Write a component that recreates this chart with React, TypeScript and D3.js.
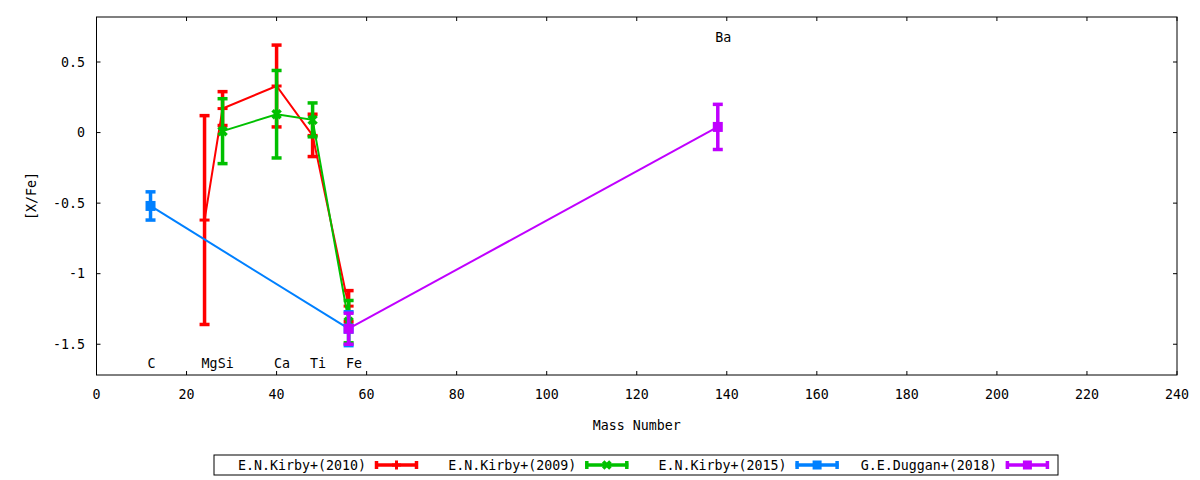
import React from "react";
import * as d3 from "d3";

// ---- data ----
const kirby2010Mass = [24, 28, 40, 48, 56];
const kirby2010Val = [-0.62, 0.17, 0.33, -0.02, -1.23];
const kirby2010Err = [0.74, 0.12, 0.29, 0.15, 0.11];

const kirby2009Mass = [28, 40, 48, 56];
const kirby2009Val = [0.01, 0.13, 0.09, -1.34];
const kirby2009Err = [0.23, 0.31, 0.12, 0.15];

const kirby2015Mass = [12, 56];
const kirby2015Val = [-0.52, -1.39];
const kirby2015Err = [0.1, 0.12];

const duggan2018Mass = [56, 138];
const duggan2018Val = [-1.39, 0.04];
const duggan2018Err = [0.11, 0.16];

const seriesNames = ["E.N.Kirby+(2010)", "E.N.Kirby+(2009)", "E.N.Kirby+(2015)", "G.E.Duggan+(2018)"];
const seriesColors = ["#ff0000", "#00c000", "#0080ff", "#c000ff"];
const seriesMarkers = ["plus", "cross", "square", "square"];

const elementNames = ["C", "Mg", "Si", "Ca", "Ti", "Fe", "Ba"];
const elementLabelX = [12.2, 25.1, 28.7, 41.2, 49.2, 57.2, 139.2];
const elementLabelY = [-1.633, -1.633, -1.633, -1.633, -1.633, -1.633, 0.675];

const xTicks = [0, 20, 40, 60, 80, 100, 120, 140, 160, 180, 200, 220, 240];
const yTicks = [-1.5, -1, -0.5, 0, 0.5];

const FONT = "'DejaVu Sans Mono', monospace";

function Marker({ kind, cx, cy, color, size }: { kind: string; cx: number; cy: number; color: string; size: number }) {
  const h = size / 2;
  if (kind === "plus") {
    return (
      <g stroke={color} strokeWidth={3}>
        <line x1={cx - h} x2={cx + h} y1={cy} y2={cy} />
        <line x1={cx} x2={cx} y1={cy - h} y2={cy + h} />
      </g>
    );
  }
  if (kind === "cross") {
    const d = h * 0.8;
    return (
      <g stroke={color} strokeWidth={3.5}>
        <line x1={cx - d} x2={cx + d} y1={cy - d} y2={cy + d} />
        <line x1={cx - d} x2={cx + d} y1={cy + d} y2={cy - d} />
      </g>
    );
  }
  return <rect x={cx - h} y={cy - h} width={size} height={size} fill={color} />;
}

export default function App() {
  const W = 1200;
  const H = 480;
  const x = d3.scaleLinear().domain([0, 240]).range([96.5, 1177]);
  const y = d3.scaleLinear().domain([-1.718, 0.819]).range([375, 17]);

  const series = [
    { mass: kirby2010Mass, val: kirby2010Val, err: kirby2010Err },
    { mass: kirby2009Mass, val: kirby2009Val, err: kirby2009Err },
    { mass: kirby2015Mass, val: kirby2015Val, err: kirby2015Err },
    { mass: duggan2018Mass, val: duggan2018Val, err: duggan2018Err },
  ];

  const line = d3
    .line<[number, number]>()
    .x((d) => x(d[0]))
    .y((d) => y(d[1]));

  const [x0, x1] = x.range();
  const [yb, yt] = y.range();
  const tickLen = 4;
  const capW = 10;

  const legendLeft = 214;
  const legendRight = 1058;
  const legendTop = 455;
  const legendBottom = 475;
  const legendMid = (legendTop + legendBottom) / 2;

  return (
    <div style={{ position: "absolute", left: 0, top: 0 }}>
      <svg width={W} height={H} viewBox={`0 0 ${W} ${H}`} style={{ display: "block", background: "#fff" }}>
        <rect x={0} y={0} width={W} height={H} fill="#fff" />
        {/* ticks */}
        <g stroke="#000" strokeWidth={1}>
          {xTicks.map((t) => (
            <g key={"xt" + t}>
              <line x1={x(t)} x2={x(t)} y1={yb} y2={yb - tickLen} />
              <line x1={x(t)} x2={x(t)} y1={yt} y2={yt + tickLen} />
            </g>
          ))}
          {yTicks.map((t) => (
            <g key={"yt" + t}>
              <line x1={x0} x2={x0 + tickLen} y1={y(t)} y2={y(t)} />
              <line x1={x1} x2={x1 - tickLen} y1={y(t)} y2={y(t)} />
            </g>
          ))}
        </g>
        {/* tick labels */}
        <g fontFamily={FONT} fontSize={13.3} fill="#000">
          {xTicks.map((t) => (
            <text key={"xl" + t} x={x(t)} y={394} textAnchor="middle" dominantBaseline="central">
              {String(t)}
            </text>
          ))}
          {yTicks.map((t) => (
            <text key={"yl" + t} x={85} y={y(t)} textAnchor="end" dominantBaseline="central">
              {String(t)}
            </text>
          ))}
          <text x={(x0 + x1) / 2} y={425} textAnchor="middle" dominantBaseline="central">
            Mass Number
          </text>
          <text
            x={31}
            y={(yb + yt) / 2}
            textAnchor="middle"
            dominantBaseline="central"
            transform={`rotate(-90, 31, ${(yb + yt) / 2})`}
          >
            [X/Fe]
          </text>
          {elementNames.map((n, i) => (
            <text key={"el" + n} x={x(elementLabelX[i])} y={y(elementLabelY[i])} textAnchor="middle" dominantBaseline="central">
              {n}
            </text>
          ))}
        </g>
        {/* series */}
        {series.map((s, si) => {
          const color = seriesColors[si];
          const pts: [number, number][] = s.mass.map((m, i) => [m, s.val[i]]);
          return (
            <g key={"s" + si}>
              <path d={line(pts) || ""} fill="none" stroke={color} strokeWidth={2} />
              {pts.map((p, i) => {
                const cx = x(p[0]);
                const top = y(p[1] + s.err[i]);
                const bot = y(p[1] - s.err[i]);
                return (
                  <g key={i}>
                    <g stroke={color} strokeWidth={3.5}>
                      <line x1={cx} x2={cx} y1={top} y2={bot} />
                      <line x1={cx - capW / 2} x2={cx + capW / 2} y1={top} y2={top} />
                      <line x1={cx - capW / 2} x2={cx + capW / 2} y1={bot} y2={bot} />
                    </g>
                    <Marker kind={seriesMarkers[si]} cx={cx} cy={y(p[1])} color={color} size={10} />
                  </g>
                );
              })}
            </g>
          );
        })}
        {/* frame */}
        <rect x={x0} y={yt} width={x1 - x0} height={yb - yt} fill="none" stroke="#000" strokeWidth={1} />
        {/* legend */}
        <rect
          x={legendLeft}
          y={legendTop}
          width={legendRight - legendLeft}
          height={legendBottom - legendTop}
          fill="none"
          stroke="#000"
          strokeWidth={1}
        />
        {seriesNames.map((name, i) => {
          const textEnd = 366 + i * 210.3;
          const s0 = textEnd + 9;
          const s1 = s0 + 43;
          const color = seriesColors[i];
          return (
            <g key={"lg" + i}>
              <text
                x={textEnd}
                y={legendMid}
                textAnchor="end"
                dominantBaseline="central"
                fontFamily={FONT}
                fontSize={13.3}
                fill="#000"
              >
                {name}
              </text>
              <g stroke={color} strokeWidth={3.5}>
                <line x1={s0} x2={s1} y1={legendMid} y2={legendMid} />
                <line x1={s0 + 1.5} x2={s0 + 1.5} y1={legendMid - 4} y2={legendMid + 4} />
                <line x1={s1 - 1.5} x2={s1 - 1.5} y1={legendMid - 4} y2={legendMid + 4} />
              </g>
              <Marker kind={seriesMarkers[i]} cx={(s0 + s1) / 2} cy={legendMid} color={color} size={9} />
            </g>
          );
        })}
      </svg>
    </div>
  );
}
